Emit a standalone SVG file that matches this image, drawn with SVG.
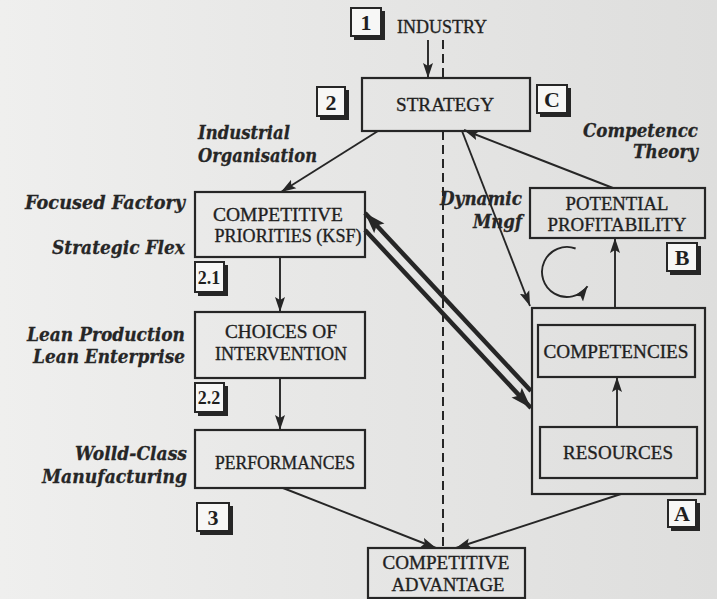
<svg xmlns="http://www.w3.org/2000/svg" width="717" height="599" viewBox="0 0 717 599">
  <defs>
    <linearGradient id="paper" x1="0" y1="0" x2="1" y2="0">
      <stop offset="0" stop-color="#efefee"/>
      <stop offset="0.5" stop-color="#e6e6e5"/>
      <stop offset="1" stop-color="#dededd"/>
    </linearGradient>
    <marker id="ah" markerUnits="userSpaceOnUse" markerWidth="16" markerHeight="11" refX="15" refY="5.5" orient="auto">
      <path d="M0,0.5 L15,5.5 L0,10.5 L3,5.5 z" fill="#262626"/>
    </marker>
    <marker id="ahb" markerUnits="userSpaceOnUse" markerWidth="22" markerHeight="15" refX="21" refY="7.5" orient="auto">
      <path d="M0,0.5 L21,7.5 L0,14.5 L4,7.5 z" fill="#262626"/>
    </marker>
  </defs>
  <style>
    .box { fill: none; stroke: #262626; stroke-width: 2.2; }
    .nt { font-family: "Liberation Serif", "Times New Roman", serif; font-size: 19px; fill: #1f1f1f; stroke: #1f1f1f; stroke-width: 0.35; text-anchor: middle; }
    .lab { font-family: "DejaVu Serif", "Liberation Serif", serif; font-size: 19px; font-weight: bold; font-style: italic; fill: #262626; stroke: #262626; stroke-width: 0.3; }
    .tag { fill: #f7f7f6; stroke: #262626; stroke-width: 2; }
    .sh { fill: #262626; }
    .tt { font-family: "Liberation Serif", "Times New Roman", serif; font-size: 22px; font-weight: bold; fill: #1f1f1f; text-anchor: middle; }
    .ln { fill: none; stroke: #262626; stroke-width: 1.9; }
    .thick { fill: none; stroke: #262626; stroke-width: 4.5; }
    .dash { fill: none; stroke: #262626; stroke-width: 2; stroke-dasharray: 9 5; }
  </style>

  <rect width="717" height="599" fill="url(#paper)"/>

  <!-- connectors -->
  <g id="connectors">
    <line class="dash" x1="443" y1="40" x2="443" y2="78"/>
    <line class="dash" x1="443" y1="131" x2="443" y2="548"/>
    <line class="ln" x1="428" y1="40" x2="428" y2="78" marker-end="url(#ah)"/>
    <line class="ln" x1="378" y1="131" x2="281" y2="192" marker-end="url(#ah)"/>
    <line class="ln" x1="613" y1="188" x2="464" y2="130" marker-end="url(#ah)"/>
    <line class="ln" x1="462" y1="131" x2="530" y2="306" marker-end="url(#ah)"/>
    <line class="ln" x1="280" y1="257" x2="280" y2="312" marker-end="url(#ah)"/>
    <line class="ln" x1="280" y1="378" x2="280" y2="430" marker-end="url(#ah)"/>
    <line class="ln" x1="283" y1="488" x2="436" y2="548" marker-end="url(#ah)"/>
    <line class="ln" x1="621" y1="494" x2="456" y2="548" marker-end="url(#ah)"/>
    <line class="ln" x1="617" y1="427" x2="617" y2="377" marker-end="url(#ah)"/>
    <line class="ln" x1="615" y1="308" x2="615" y2="238" marker-end="url(#ah)"/>
    <line class="thick" x1="531" y1="391" x2="365" y2="213" marker-end="url(#ahb)"/>
    <line class="thick" x1="365" y1="230" x2="531" y2="408" marker-end="url(#ahb)"/>
    <path class="ln" d="M575.6,248.5 A25,25 0 1 0 587.5,286.3" marker-end="url(#ah)"/>
  </g>

  <!-- main nodes -->
  <g id="industry">
    <text class="nt" x="442" y="33" textLength="90" lengthAdjust="spacingAndGlyphs">INDUSTRY</text>
  </g>
  <g id="strategy">
    <rect class="box" x="362" y="78" width="168" height="53"/>
    <text class="nt" x="445" y="111" textLength="98" lengthAdjust="spacingAndGlyphs">STRATEGY</text>
  </g>
  <g id="competitive-priorities">
    <rect class="box" x="195" y="192" width="170" height="65"/>
    <text class="nt" x="278" y="221" textLength="130" lengthAdjust="spacingAndGlyphs">COMPETITIVE</text>
    <text class="nt" x="288" y="242" textLength="147" lengthAdjust="spacingAndGlyphs">PRIORITIES (KSF)</text>
  </g>
  <g id="choices-of-intervention">
    <rect class="box" x="195" y="312" width="170" height="66"/>
    <text class="nt" x="281" y="338" textLength="112" lengthAdjust="spacingAndGlyphs">CHOICES OF</text>
    <text class="nt" x="281" y="360" textLength="132" lengthAdjust="spacingAndGlyphs">INTERVENTION</text>
  </g>
  <g id="performances">
    <rect class="box" x="195" y="430" width="170" height="58"/>
    <text class="nt" x="285" y="469" textLength="140" lengthAdjust="spacingAndGlyphs">PERFORMANCES</text>
  </g>
  <g id="potential-profitability">
    <rect class="box" x="530" y="188" width="175" height="50"/>
    <text class="nt" x="617" y="210" textLength="103" lengthAdjust="spacingAndGlyphs">POTENTIAL</text>
    <text class="nt" x="617" y="231" textLength="139" lengthAdjust="spacingAndGlyphs">PROFITABILITY</text>
  </g>
  <g id="resource-base">
    <rect class="box" x="532" y="308" width="173" height="186"/>
  </g>
  <g id="competencies">
    <rect class="box" x="538" y="325" width="157" height="52"/>
    <text class="nt" x="616" y="358" textLength="145" lengthAdjust="spacingAndGlyphs">COMPETENCIES</text>
  </g>
  <g id="resources">
    <rect class="box" x="540" y="427" width="157" height="51"/>
    <text class="nt" x="618" y="459" textLength="110" lengthAdjust="spacingAndGlyphs">RESOURCES</text>
  </g>
  <g id="competitive-advantage">
    <rect class="box" x="368" y="548" width="157" height="50"/>
    <text class="nt" x="446" y="569" textLength="127" lengthAdjust="spacingAndGlyphs">COMPETITIVE</text>
    <text class="nt" x="448" y="591" textLength="113" lengthAdjust="spacingAndGlyphs">ADVANTAGE</text>
  </g>

  <!-- numbered tags -->
  <g id="tag-1">
    <rect class="sh" x="354" y="11" width="31" height="29"/>
    <rect class="tag" x="351" y="8" width="30" height="28"/>
    <text class="tt" x="366" y="30">1</text>
  </g>
  <g id="tag-2">
    <rect class="sh" x="320" y="90" width="29" height="30"/>
    <rect class="tag" x="317" y="87" width="28" height="29"/>
    <text class="tt" x="331" y="110">2</text>
  </g>
  <g id="tag-C">
    <rect class="sh" x="540" y="88" width="31" height="29"/>
    <rect class="tag" x="537" y="85" width="30" height="28"/>
    <text class="tt" x="552" y="107">C</text>
  </g>
  <g id="tag-B">
    <rect class="sh" x="670" y="246" width="31" height="29"/>
    <rect class="tag" x="667" y="243" width="30" height="28"/>
    <text class="tt" x="682" y="265">B</text>
  </g>
  <g id="tag-2-1">
    <rect class="sh" x="198" y="265" width="30" height="31"/>
    <rect class="tag" x="195" y="262" width="29" height="30"/>
    <text class="tt" x="209" y="284" style="font-size:18px">2.1</text>
  </g>
  <g id="tag-2-2">
    <rect class="sh" x="198" y="386" width="30" height="30"/>
    <rect class="tag" x="195" y="383" width="29" height="29"/>
    <text class="tt" x="209" y="404" style="font-size:18px">2.2</text>
  </g>
  <g id="tag-3">
    <rect class="sh" x="200" y="506" width="33" height="29"/>
    <rect class="tag" x="197" y="503" width="32" height="28"/>
    <text class="tt" x="213" y="525">3</text>
  </g>
  <g id="tag-A">
    <rect class="sh" x="671" y="503" width="29" height="28"/>
    <rect class="tag" x="668" y="500" width="28" height="27"/>
    <text class="tt" x="682" y="521">A</text>
  </g>

  <!-- theory labels -->
  <g id="labels">
    <text class="lab" x="198" y="139" textLength="92" lengthAdjust="spacingAndGlyphs">Industrial</text>
    <text class="lab" x="198" y="162" textLength="119" lengthAdjust="spacingAndGlyphs">Organisation</text>
    <text class="lab" x="583" y="137" textLength="115" lengthAdjust="spacingAndGlyphs">Competencc</text>
    <text class="lab" x="633" y="158" textLength="65" lengthAdjust="spacingAndGlyphs">Theory</text>
    <text class="lab" x="25" y="209" textLength="160" lengthAdjust="spacingAndGlyphs">Focused Factory</text>
    <text class="lab" x="52" y="254" textLength="133" lengthAdjust="spacingAndGlyphs">Strategic Flex</text>
    <text class="lab" x="27" y="341" textLength="158" lengthAdjust="spacingAndGlyphs">Lean Production</text>
    <text class="lab" x="33" y="363" textLength="152" lengthAdjust="spacingAndGlyphs">Lean Enterprise</text>
    <text class="lab" x="75" y="460" textLength="112" lengthAdjust="spacingAndGlyphs">Wolld-Class</text>
    <text class="lab" x="42" y="483" textLength="145" lengthAdjust="spacingAndGlyphs">Manufacturing</text>
    <text class="lab" x="440" y="205" textLength="82" lengthAdjust="spacingAndGlyphs">Dynamic</text>
    <text class="lab" x="473" y="228" textLength="49" lengthAdjust="spacingAndGlyphs">Mngf</text>
  </g>
</svg>
